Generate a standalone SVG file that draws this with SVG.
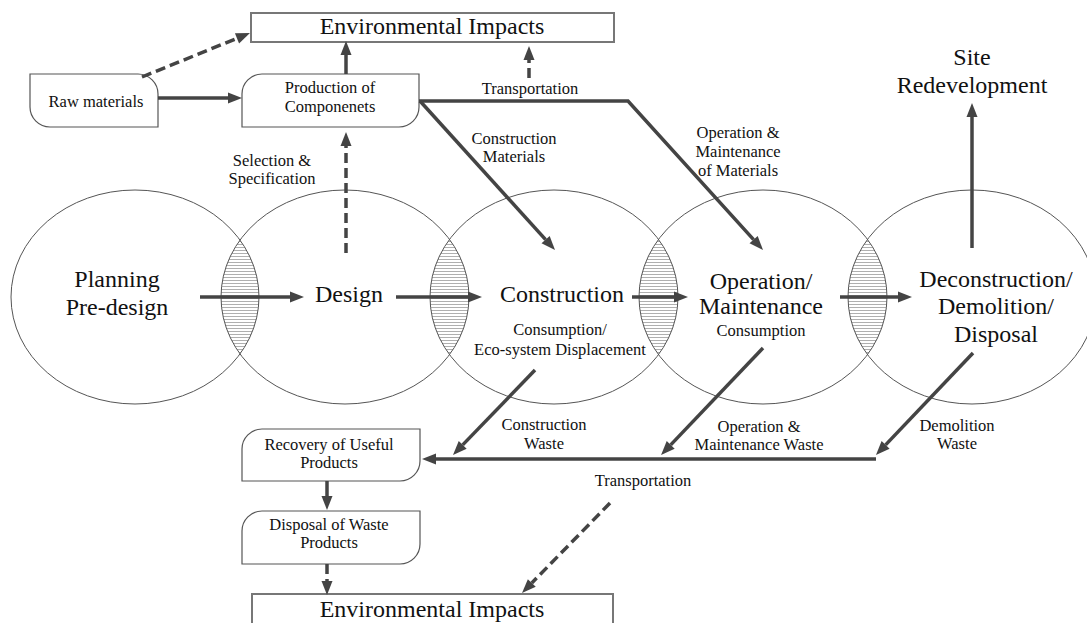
<svg xmlns="http://www.w3.org/2000/svg" width="1087" height="623" viewBox="0 0 1087 623">
  <style>
    .bg { fill: #ffffff; }
    .phase { fill: none; stroke: #555555; stroke-width: 1; }
    .box { fill: #ffffff; stroke: #555555; stroke-width: 1.2; }
    .impact { fill: #ffffff; stroke: #777777; stroke-width: 2; }
    .t { font-family: "Liberation Serif", "Times New Roman", serif; fill: #111111; text-anchor: middle; }
    .big { font-size: 24px; }
    .small { font-size: 16.5px; }
    .flow { fill: none; stroke: #444444; stroke-width: 3.5; stroke-linecap: butt; marker-end: url(#head); }
    .dash { fill: none; stroke: #444444; stroke-width: 3.5; stroke-dasharray: 10 5; marker-end: url(#head); }
  </style>
  <defs>
    <marker id="head" markerUnits="userSpaceOnUse" markerWidth="14" markerHeight="11" refX="0" refY="5.5" orient="auto" overflow="visible">
      <path d="M0,0 L14,5.5 L0,11 Z" fill="#444444"/>
    </marker>
    <pattern id="hatch" patternUnits="userSpaceOnUse" width="6" height="3">
      <line x1="0" y1="1.5" x2="6" y2="1.5" stroke="#9a9a9a" stroke-width="0.8"/>
    </pattern>
    <clipPath id="clip1"><ellipse cx="135" cy="297" rx="124" ry="107"/></clipPath>
    <clipPath id="clip2"><ellipse cx="345" cy="297" rx="124" ry="107"/></clipPath>
    <clipPath id="clip3"><ellipse cx="554" cy="297" rx="124" ry="107"/></clipPath>
    <clipPath id="clip4"><ellipse cx="763" cy="297" rx="124" ry="107"/></clipPath>
  </defs>

  <rect class="bg" x="0" y="0" width="1087" height="623"/>

  <!-- overlap zones between consecutive phases -->
  <g id="overlaps">
    <g clip-path="url(#clip1)"><ellipse cx="345" cy="297" rx="124" ry="107" fill="url(#hatch)"/></g>
    <g clip-path="url(#clip2)"><ellipse cx="554" cy="297" rx="124" ry="107" fill="url(#hatch)"/></g>
    <g clip-path="url(#clip3)"><ellipse cx="763" cy="297" rx="124" ry="107" fill="url(#hatch)"/></g>
    <g clip-path="url(#clip4)"><ellipse cx="972" cy="297" rx="124" ry="107" fill="url(#hatch)"/></g>
  </g>

  <!-- life-cycle phases -->
  <g id="planning">
    <ellipse class="phase" cx="135" cy="297" rx="124" ry="107"/>
    <text class="t big" x="117" y="287">Planning</text>
    <text class="t big" x="117" y="315">Pre-design</text>
  </g>
  <g id="design">
    <ellipse class="phase" cx="345" cy="297" rx="124" ry="107"/>
    <text class="t big" x="349" y="302">Design</text>
  </g>
  <g id="construction">
    <ellipse class="phase" cx="554" cy="297" rx="124" ry="107"/>
    <text class="t big" x="562" y="302">Construction</text>
    <text class="t small" x="560" y="335">Consumption/</text>
    <text class="t small" x="560" y="355">Eco-system Displacement</text>
  </g>
  <g id="operation">
    <ellipse class="phase" cx="763" cy="297" rx="124" ry="107"/>
    <text class="t big" x="761" y="289">Operation/</text>
    <text class="t big" x="761" y="314">Maintenance</text>
    <text class="t small" x="761" y="336">Consumption</text>
  </g>
  <g id="deconstruction">
    <ellipse class="phase" cx="972" cy="297" rx="124" ry="107"/>
    <text class="t big" x="996" y="287">Deconstruction/</text>
    <text class="t big" x="996" y="314">Demolition/</text>
    <text class="t big" x="996" y="342">Disposal</text>
  </g>

  <!-- upstream nodes -->
  <g id="impacts-top">
    <rect class="impact" x="251" y="13" width="363" height="29"/>
    <text class="t big" x="432" y="34">Environmental Impacts</text>
  </g>
  <g id="raw-materials">
    <path class="box" d="M30,74 H138 A20,20 0 0 1 158,94 V127 H50 A20,20 0 0 1 30,107 Z"/>
    <text class="t small" x="96" y="107">Raw materials</text>
  </g>
  <g id="production">
    <path class="box" d="M262,74 H419 V107 A20,20 0 0 1 399,127 H242 V94 A20,20 0 0 1 262,74 Z"/>
    <text class="t small" x="330" y="93">Production of</text>
    <text class="t small" x="330" y="112">Componenets</text>
  </g>
  <g id="site-redevelopment">
    <text class="t big" x="972" y="65">Site</text>
    <text class="t big" x="972" y="93">Redevelopment</text>
  </g>

  <!-- downstream nodes -->
  <g id="recovery">
    <path class="box" d="M262,429 H420 V461 A20,20 0 0 1 400,481 H242 V449 A20,20 0 0 1 262,429 Z"/>
    <text class="t small" x="329" y="450">Recovery of Useful</text>
    <text class="t small" x="329" y="468">Products</text>
  </g>
  <g id="disposal">
    <path class="box" d="M262,511 H420 V544 A20,20 0 0 1 400,564 H242 V531 A20,20 0 0 1 262,511 Z"/>
    <text class="t small" x="329" y="530">Disposal of Waste</text>
    <text class="t small" x="329" y="548">Products</text>
  </g>
  <g id="impacts-bottom">
    <rect class="impact" x="252" y="594" width="361" height="40"/>
    <text class="t big" x="432" y="617">Environmental Impacts</text>
  </g>

  <!-- connectors -->
  <g id="connectors">
    <!-- phase sequence -->
    <line class="flow" x1="200" y1="297" x2="290" y2="297"/>
    <line class="flow" x1="396" y1="297" x2="468" y2="297"/>
    <line class="flow" x1="632" y1="297" x2="674" y2="297"/>
    <line class="flow" x1="840" y1="297" x2="898" y2="297"/>
    <line class="flow" x1="972" y1="248" x2="972" y2="117"/>

    <!-- upstream -->
    <line class="flow" x1="158" y1="98" x2="228" y2="98"/>
    <line class="flow" x1="346" y1="74" x2="346" y2="55"/>
    <line class="dash" x1="142" y1="77" x2="237" y2="38.3"/>
    <line class="dash" x1="346" y1="253" x2="346" y2="146"/>
    <line class="dash" x1="529" y1="78" x2="529" y2="60" stroke-dasharray="8 4"/>
    <line class="flow" x1="420" y1="101" x2="545.6" y2="239.6"/>
    <polyline class="flow" points="419,101 628,101 753.6,239.6"/>

    <!-- downstream -->
    <line class="flow" x1="876" y1="459" x2="436" y2="459"/>
    <line class="flow" x1="535" y1="370" x2="462.7" y2="444.9"/>
    <line class="flow" x1="763" y1="348" x2="670.7" y2="444.9"/>
    <line class="flow" x1="973" y1="353" x2="885.6" y2="444.9"/>
    <line class="flow" x1="327" y1="481" x2="327" y2="496"/>
    <line class="dash" x1="327" y1="564" x2="327" y2="581" stroke-dasharray="6 3"/>
    <line class="dash" x1="610" y1="503" x2="531.8" y2="583"/>
  </g>

  <!-- connector labels -->
  <g id="labels">
    <text class="t small" x="530" y="94">Transportation</text>
    <text class="t small" x="272" y="166">Selection &amp;</text>
    <text class="t small" x="272" y="184">Specification</text>
    <text class="t small" x="514" y="144">Construction</text>
    <text class="t small" x="514" y="162">Materials</text>
    <text class="t small" x="738" y="138">Operation &amp;</text>
    <text class="t small" x="738" y="157">Maintenance</text>
    <text class="t small" x="738" y="176">of Materials</text>
    <text class="t small" x="544" y="430">Construction</text>
    <text class="t small" x="544" y="449">Waste</text>
    <text class="t small" x="759" y="432">Operation &amp;</text>
    <text class="t small" x="759" y="450">Maintenance Waste</text>
    <text class="t small" x="957" y="431">Demolition</text>
    <text class="t small" x="957" y="449">Waste</text>
    <text class="t small" x="643" y="486">Transportation</text>
  </g>
</svg>
